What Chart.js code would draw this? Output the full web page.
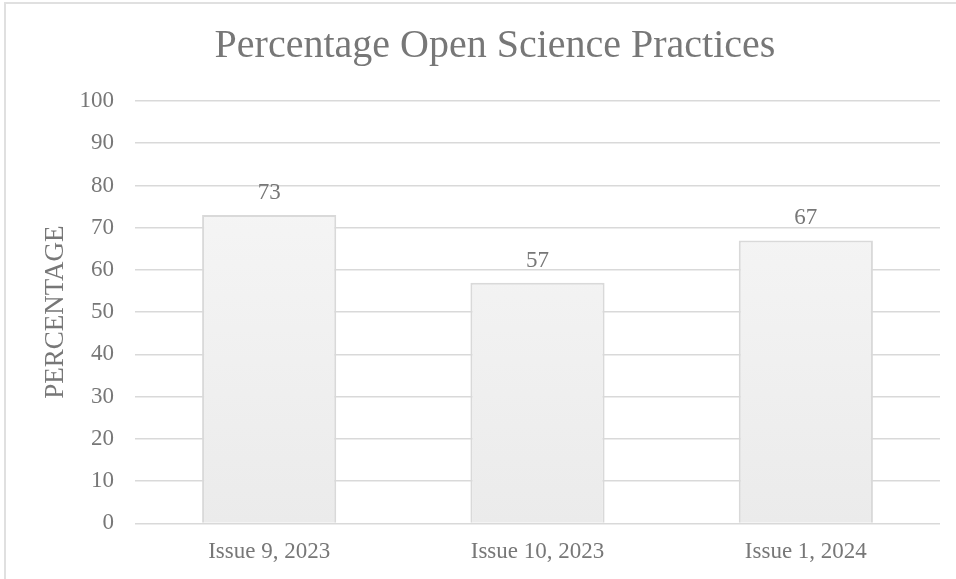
<!DOCTYPE html>
<html>
<head>
<meta charset="utf-8">
<title>Percentage Open Science Practices</title>
<script src="https://cdn.jsdelivr.net/npm/chart.js@4/dist/chart.umd.min.js"></script>
<style>
    body { margin: 0; background: #fff; overflow: hidden; }
    #frame {
        position: absolute; left: 4px; top: 2px;
        width: 1200px; height: 800px;
        border: 2px solid #e0e0e0;
    }
    #wrap { position: absolute; left: 0; top: 0; width: 990px; height: 579px; }
</style>
</head>
<body>
<div id="frame"></div>
<div id="wrap"><canvas id="osChart" width="990" height="579"></canvas></div>
<script>
const categories = ['Issue 9, 2023', 'Issue 10, 2023', 'Issue 1, 2024'];
const percentages = [73, 57, 67];
const yMin = 0;
const yMax = 100;
const yStep = 10;

const serif = '"Liberation Serif", "Times New Roman", serif';
const textGray = '#777777';
const gridGray = '#d9d9d9';

// value labels above each bar
const barLabels = {
    id: 'barLabels',
    afterDatasetsDraw(chart) {
        const ctx = chart.ctx;
        const meta = chart.getDatasetMeta(0);
        ctx.save();
        ctx.font = '23px ' + serif;
        ctx.fillStyle = textGray;
        ctx.textAlign = 'center';
        ctx.textBaseline = 'alphabetic';
        meta.data.forEach((bar, i) => {
            ctx.fillText(String(percentages[i]), bar.x, bar.y - 16);
        });
        ctx.restore();
    }
};

function barFill(context) {
    const area = context.chart.chartArea;
    if (!area) return '#efefef';
    const g = context.chart.ctx.createLinearGradient(0, area.top, 0, area.bottom);
    g.addColorStop(0, '#f8f8f8');
    g.addColorStop(1, '#ebebeb');
    return g;
}

const ctx = document.getElementById('osChart').getContext('2d');
new Chart(ctx, {
    type: 'bar',
    data: {
        labels: categories,
        datasets: [{
            label: 'Percentage',
            data: percentages,
            backgroundColor: barFill,
            borderColor: gridGray,
            borderWidth: 2,
            barPercentage: 0.5,
            categoryPercentage: 1
        }]
    },
    options: {
        responsive: false,
        animation: false,
        layout: { padding: { left: 0, right: 0, top: 0, bottom: 1 } },
        plugins: {
            legend: { display: false },
            tooltip: { enabled: false },
            title: {
                display: true,
                text: 'Percentage Open Science Practices',
                color: textGray,
                font: { family: serif, size: 40, weight: 'normal' },
                padding: { top: 22, bottom: 31 }
            }
        },
        scales: {
            x: {
                afterFit(scale) { scale.height -= 3; },
                grid: { display: false, drawTicks: false },
                border: { display: false },
                ticks: {
                    color: textGray,
                    font: { family: serif, size: 23 },
                    padding: 15,
                    maxRotation: 0
                }
            },
            y: {
                min: yMin,
                max: yMax,
                afterFit(scale) { scale.width = 135; },
                grid: { color: gridGray, lineWidth: 1.5, drawTicks: false },
                border: { display: false },
                ticks: {
                    stepSize: yStep,
                    color: textGray,
                    font: { family: serif, size: 23 },
                    padding: 21
                },
                title: {
                    display: true,
                    text: 'PERCENTAGE',
                    color: textGray,
                    font: { family: serif, size: 27, weight: 'normal' },
                    padding: { top: 40, bottom: 0 }
                }
            },
            // empty right-hand spacer so the plot stops where the reference does
            spacer: {
                position: 'right',
                afterFit(scale) { scale.width = 50; },
                grid: { display: false },
                border: { display: false },
                ticks: { display: false }
            }
        }
    },
    plugins: [barLabels]
});
</script>
</body>
</html>
